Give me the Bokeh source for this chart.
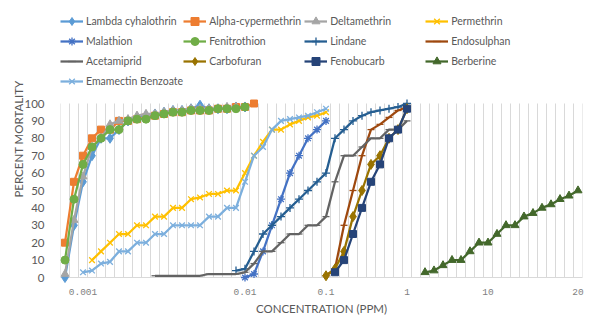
from bokeh.plotting import figure
from bokeh.models import Range1d, FixedTicker, Legend, LegendItem
from bokeh.embed import file_html
from bokeh.resources import INLINE

# Category axis (concentration, ppm) - evenly spaced categories as in the source chart
CONC = ["0.0005", "0.0008", "0.001", "0.0015", "0.002", "0.0025", "0.003", "0.0035",
        "0.004", "0.0045", "0.005", "0.0055", "0.006", "0.0065", "0.007", "0.0075",
        "0.008", "0.0085", "0.009", "0.0095", "0.01", "0.02", "0.03", "0.04", "0.05",
        "0.06", "0.07", "0.08", "0.09", "0.1", "0.2", "0.3", "0.4", "0.5", "0.6", "0.7",
        "0.8", "0.9", "1", "2", "3", "4", "5", "6", "7", "8", "9", "10", "11", "12",
        "13", "14", "15", "16", "17", "18", "19", "20"]
X_TICK_LABELS = ["0.001", "0.01", "0.1", "1", "10", "20"]
Y_TICKS = [0, 10, 20, 30, 40, 50, 60, 70, 80, 90, 100]

# Percent mortality per series (first concentration + values)
LAMBDA_START = "0.0005"
LAMBDA = [0, 30, 55, 70, 80, 80, 85, 90, 92, 93, 94, 95, 96, 96, 97, 99, 97, 97, 97, 98, 98]
ALPHA_START = "0.0005"
ALPHA = [20, 55, 70, 80, 85, 85, 90, 90, 91, 92, 93, 94, 95, 95, 96, 96, 96, 97, 97, 98, 98, 100]
DELTA_START = "0.0005"
DELTA = [2, 33, 58, 75, 80, 88, 90, 91, 93, 94, 94, 95, 96, 96, 97, 97, 97, 97, 98, 98]
PERMETHRIN_START = "0.0015"
PERMETHRIN = [10, 15, 20, 25, 25, 30, 30, 35, 35, 40, 40, 45, 46, 48, 48, 50, 50,
              60, 70, 78, 85, 85, 88, 90, 92, 93, 95]
MALATHION_START = "0.01"
MALATHION = [0, 2, 15, 30, 45, 60, 70, 80, 85, 90]
FENITROTHION_START = "0.0005"
FENITROTHION = [10, 45, 65, 75, 80, 85, 85, 90, 91, 91, 93, 94, 95, 95, 96, 96, 96, 97, 97, 97, 98]
LINDANE_START = "0.0095"
LINDANE = [4, 5, 15, 25, 30, 35, 40, 45, 50, 55, 60, 80, 85, 90, 93, 95, 96, 97, 98, 100]
ENDOSULPHAN_START = "0.1"
ENDOSULPHAN = [1, 5, 30, 50, 70, 85, 88, 92, 96, 98]
ACETAMIPRID_START = "0.005"
ACETAMIPRID = [1, 1, 1, 1, 1, 1, 2, 2, 2, 2, 3, 8, 15, 15, 20, 25, 25, 30, 30, 35,
               55, 70, 70, 75, 80, 80, 85, 85, 90]
CARBOFURAN_START = "0.1"
CARBOFURAN = [1, 5, 15, 35, 50, 65, 70, 80, 85, 97]
FENOBUCARB_START = "0.2"
FENOBUCARB = [3, 10, 25, 40, 55, 65, 80, 85, 97]
BERBERINE_START = "3"
BERBERINE = [3, 4, 7, 10, 10, 15, 20, 20, 25, 30, 30, 35, 37, 40, 42, 45, 47, 50]
EMAMECTIN_START = "0.001"
EMAMECTIN = [3, 4, 8, 9, 15, 15, 20, 20, 25, 25, 30, 30, 30, 30, 35, 35, 40, 40,
             55, 70, 75, 85, 90, 91, 92, 93, 95, 97]

FONT = "Lato"
TXT = "#595959"
Y_MAX = 100
# the plotting frame also spans the legend area above the 0-100 plot area
FRAME_TOP = Y_MAX * 277 / 174

p = figure(width=600, height=330, output_backend="svg", toolbar_location=None,
           x_range=Range1d(-0.5, len(CONC) - 0.5), y_range=Range1d(0, FRAME_TOP),
           min_border_left=60, min_border_right=18, min_border_top=0,
           min_border_bottom=53)
p.outline_line_color = None
p.background_fill_color = "white"
p.border_fill_color = "white"
p.grid.grid_line_color = None

# x axis
p.xaxis.ticker = FixedTicker(ticks=[CONC.index(t) for t in X_TICK_LABELS])
p.xaxis.major_label_overrides = {CONC.index(t): t for t in X_TICK_LABELS}
p.xaxis.axis_line_color = "#D9D9D9"
p.xaxis.major_tick_line_color = None
p.xaxis.minor_tick_line_color = None
p.xaxis.major_label_text_font = "Liberation Mono"
p.xaxis.major_label_text_font_size = "9.5px"
p.xaxis.major_label_text_color = "#7F7F7F"
p.xaxis.major_label_standoff = 5
p.xaxis.axis_label = "CONCENTRATION (PPM)"
p.xaxis.axis_label_text_font = FONT
p.xaxis.axis_label_text_font_size = "11.5px"
p.xaxis.axis_label_text_font_style = "normal"
p.xaxis.axis_label_text_color = TXT
p.xaxis.axis_label_standoff = 4

# y axis
p.yaxis.ticker = FixedTicker(ticks=Y_TICKS)
p.yaxis.axis_line_color = None
p.yaxis.major_tick_line_color = None
p.yaxis.minor_tick_line_color = None
p.yaxis.major_label_text_font = FONT
p.yaxis.major_label_text_font_size = "11.5px"
p.yaxis.major_label_text_color = TXT
p.yaxis.major_label_standoff = 10
p.yaxis.axis_label = "PERCENT MORTALITY"
p.yaxis.axis_label_text_font = FONT
p.yaxis.axis_label_text_font_size = "11.5px"
p.yaxis.axis_label_text_font_style = "normal"
p.yaxis.axis_label_text_color = TXT
p.yaxis.axis_label_standoff = -4

# vertical grid lines between categories, spanning only 0..100
gx = [i - 0.5 for i in range(len(CONC) + 1)]
p.segment(x0=gx, y0=[0] * len(gx), x1=gx, y1=[Y_MAX] * len(gx),
          line_color="#D9D9D9", line_width=1, level="underlay")

series = [
    ("Lambda cyhalothrin", LAMBDA_START, LAMBDA, "#5B9BD5", "diamond", 10, 1),
    ("Alpha-cypermethrin", ALPHA_START, ALPHA, "#ED7D31", "square", 7, 1),
    ("Deltamethrin", DELTA_START, DELTA, "#A5A5A5", "triangle", 8, 1),
    ("Permethrin", PERMETHRIN_START, PERMETHRIN, "#FFC000", "x", 8, 1.3),
    ("Malathion", MALATHION_START, MALATHION, "#4472C4", "asterisk", 8, 1.3),
    ("Fenitrothion", FENITROTHION_START, FENITROTHION, "#70AD47", "circle", 8, 1),
    ("Lindane", LINDANE_START, LINDANE, "#255E91", "cross", 8, 1.3),
    ("Endosulphan", ENDOSULPHAN_START, ENDOSULPHAN, "#9E480E", "dash", 7, 1.3),
    ("Acetamiprid", ACETAMIPRID_START, ACETAMIPRID, "#636363", "dash", 7, 1.3),
    ("Carbofuran", CARBOFURAN_START, CARBOFURAN, "#997300", "diamond", 10, 1),
    ("Fenobucarb", FENOBUCARB_START, FENOBUCARB, "#264478", "square", 7, 1),
    ("Berberine", BERBERINE_START, BERBERINE, "#43682B", "triangle", 8, 1),
    ("Emamectin Benzoate", EMAMECTIN_START, EMAMECTIN, "#7CAFDD", "x", 8, 1.3),
]

items = []
for name, start, vals, color, marker, size, lw in series:
    i0 = CONC.index(start)
    xs = list(range(i0, i0 + len(vals)))
    lr = p.line(xs, vals, line_color=color, line_width=2.25, level="annotation")
    sr = p.scatter(xs, vals, marker=marker, size=size, fill_color=color,
                   line_color=color, line_width=lw, level="annotation")
    items.append(LegendItem(label=name, renderers=[lr, sr]))

legend = Legend(items=items, location=(0, 186), orientation="horizontal", ncols=4,
                glyph_width=23, glyph_height=20, label_height=20, label_width=95,
                label_standoff=3, spacing=0, padding=0, margin=0,
                border_line_color=None, background_fill_alpha=0,
                label_text_font=FONT, label_text_font_size="10.5px",
                label_text_color=TXT)
p.add_layout(legend)

open("out.html", "w").write(file_html(p, INLINE))
